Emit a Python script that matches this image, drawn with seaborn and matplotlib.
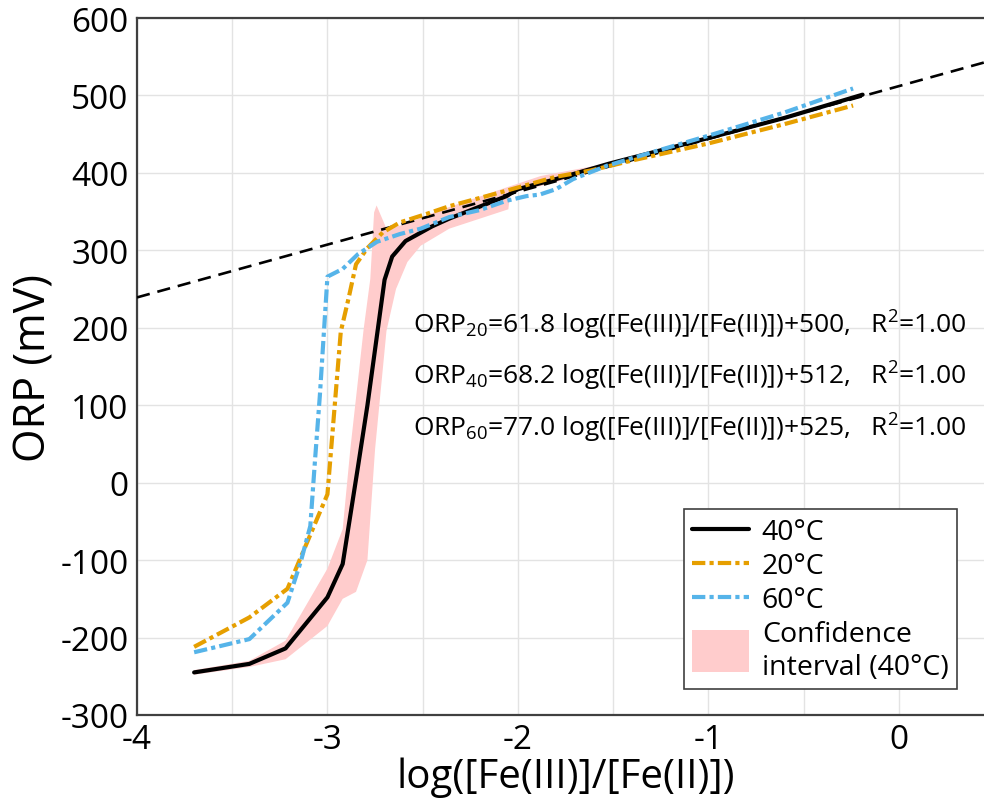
import numpy as np
import matplotlib
matplotlib.use("Agg")
import matplotlib.pyplot as plt
import matplotlib.patches as mpatches
from matplotlib.lines import Line2D
from matplotlib.legend_handler import HandlerPatch
import seaborn as sns

# ---------------- data ----------------
x40 = [-3.70, -3.41, -3.22, -3.00, -2.92, -2.84, -2.79, -2.74, -2.70, -2.66, -2.59,
       -2.45, -2.36, -2.06, -2.00, -1.80, -1.52, -1.00, -0.60, -0.19]
y40 = [-245, -234, -214, -148, -105, 20, 100, 190, 262, 292, 312,
       331, 341, 370, 379, 392, 412, 445, 471, 501]

x20 = [-3.70, -3.41, -3.21, -3.00, -2.93, -2.89, -2.85, -2.79, -2.71, -2.62, -2.48,
       -2.36, -2.06, -1.80, -1.62, -1.40, -1.00, -0.60, -0.24]
y20 = [-212, -174, -137, -15, 195, 237, 282, 303, 323, 336, 347,
       357, 377, 395, 403, 416, 438, 463, 487]

x60 = [-3.70, -3.41, -3.21, -3.14, -3.09, -3.065, -3.04, -3.00, -2.92, -2.84, -2.74,
       -2.62, -2.51, -2.36, -2.20, -2.06, -1.955, -1.885, -1.80, -1.71, -1.535,
       -1.40, -1.00, -0.60, -0.24]
y60 = [-219, -202, -155, -102, -56, 30, 112, 266, 276, 295, 311,
       321, 328, 343, 352, 364, 370, 372, 379, 392, 409,
       419, 448, 478, 509]

# confidence interval (40 °C): upper and lower boundaries
ci_up_x = [-3.70, -3.41, -3.22, -3.00, -2.92, -2.88, -2.81, -2.775, -2.755, -2.742,
           -2.69, -2.60, -2.45, -2.36, -2.05, -1.88, -1.62, -1.50]
ci_up_y = [-242, -230, -204, -111, -60, 43, 198, 263, 349, 358,
           328, 333, 348, 356, 382, 396, 408, 413]
ci_lo_x = [-3.70, -3.41, -3.22, -3.00, -2.92, -2.85, -2.79, -2.75, -2.69, -2.64,
           -2.58, -2.51, -2.36, -2.05, -2.04, -1.88, -1.62, -1.50]
ci_lo_y = [-248, -238, -228, -185, -150, -141, -100, 43, 196, 250,
           285, 306, 328, 353, 375, 383, 400, 412]

# linear fits
fit_temps = ["20", "40", "60"]
fit_slopes = [61.8, 68.2, 77.0]
fit_intercepts = [500, 512, 525]
fit_r2 = [1.00, 1.00, 1.00]

series_labels = ["40°C", "20°C", "60°C"]
ci_label = "Confidence\ninterval (40°C)"
xlabel = "log([Fe(III)]/[Fe(II)])"
ylabel = "ORP (mV)"
xticks = [-4, -3, -2, -1, 0]
yticks = [-300, -200, -100, 0, 100, 200, 300, 400, 500, 600]

# ---------------- style ----------------
sns.set_theme(style="white")
plt.rcParams["font.family"] = ["Open Sans", "DejaVu Sans"]
plt.rcParams["mathtext.fontset"] = "custom"
plt.rcParams["mathtext.rm"] = "Open Sans"
plt.rcParams["mathtext.it"] = "Open Sans:italic"
plt.rcParams["mathtext.bf"] = "Open Sans:bold"
plt.rcParams["axes.unicode_minus"] = False
plt.rcParams["text.color"] = "black"
plt.rcParams["axes.labelcolor"] = "black"
plt.rcParams["xtick.color"] = "black"
plt.rcParams["ytick.color"] = "black"

C_BLACK = "#000000"
C_ORANGE = "#E69F00"
C_BLUE = "#56B4E9"
C_PINK = "#FFCCCC"

fig = plt.figure(figsize=(9.84, 8.12), dpi=100)
ax = fig.add_axes([137 / 984, 1 - 716 / 812, (994 - 137) / 984, (716 - 19) / 812])

# confidence band
ax.fill(np.r_[ci_up_x, ci_lo_x[::-1]], np.r_[ci_up_y, ci_lo_y[::-1]],
        color=C_PINK, lw=0, zorder=2)

# fit line (40 °C)
xl = np.array([-4.0, 0.5])
ax.plot(xl, fit_slopes[1] * xl + fit_intercepts[1], color="black", lw=1.9,
        linestyle=(0, (5, 3)), zorder=3)

dashdot = (0, (3.2, 1.0, 1.0, 1.0))
sns.lineplot(x=x40, y=y40, ax=ax, color=C_BLACK, lw=3.0, sort=False,
             estimator=None, zorder=4)
sns.lineplot(x=x20, y=y20, ax=ax, color=C_ORANGE, lw=3.0, sort=False,
             estimator=None, linestyle=dashdot, zorder=5)
sns.lineplot(x=x60, y=y60, ax=ax, color=C_BLUE, lw=3.0, sort=False,
             estimator=None, linestyle=dashdot, zorder=6)

# annotations
ann_y = [205, 139, 72]
for t, s, b, r, yy in zip(fit_temps, fit_slopes, fit_intercepts, fit_r2, ann_y):
    txt = (r"ORP$_{\mathregular{" + t + r"}}$=" + f"{s:.1f} log([Fe(III)]/[Fe(II)])+{b:d},   "
           + r"R$^{\mathregular{2}}$=" + f"{r:.2f}")
    ax.text(-2.55, yy, txt, fontsize=19, va="center", ha="left", zorder=7)

# axes
ax.set_xlim(-4, 0.5)
ax.set_ylim(-300, 600)
ax.set_xticks(xticks)
ax.set_xticks([-3.5, -2.5, -1.5, -0.5], minor=True)
ax.set_yticks(yticks)
ax.grid(True, which="both", color="#e3e3e3", lw=1.0)
ax.set_axisbelow(True)
ax.tick_params(axis="both", which="major", labelsize=24, direction="in",
               length=6, width=1.2, pad=6)
ax.tick_params(axis="both", which="major", color="#404040")
ax.tick_params(axis="x", which="minor", length=0)
for sp in ax.spines.values():
    sp.set_color("#404040")
    sp.set_linewidth(1.6)
ax.set_xlabel(xlabel, fontsize=29, labelpad=0)
ax.set_ylabel(ylabel, fontsize=31, labelpad=3)


class TallPatch(HandlerPatch):
    def create_artists(self, legend, orig_handle, xdescent, ydescent, width,
                       height, fontsize, trans):
        p = mpatches.Rectangle((-xdescent, -ydescent - 0.55 * height), width,
                               height * 2.1, facecolor=orig_handle.get_facecolor(),
                               edgecolor="none", transform=trans)
        return [p]


handles = [
    Line2D([], [], color=C_BLACK, lw=3.0),
    Line2D([], [], color=C_ORANGE, lw=3.0, linestyle=dashdot),
    Line2D([], [], color=C_BLUE, lw=3.0, linestyle=dashdot),
    mpatches.Patch(facecolor=C_PINK, edgecolor="none"),
]
leg = ax.legend(handles, series_labels + [ci_label], loc="lower right",
                bbox_to_anchor=(0.957, 0.037), borderaxespad=0, fontsize=20.5,
                frameon=True, fancybox=False, edgecolor="#404040", framealpha=1,
                handlelength=2.0, handletextpad=0.45, labelspacing=0.22,
                borderpad=0.3, handler_map={mpatches.Patch: TallPatch()})
leg.get_frame().set_linewidth(1.2)

fig.savefig("out.png", dpi=100)
